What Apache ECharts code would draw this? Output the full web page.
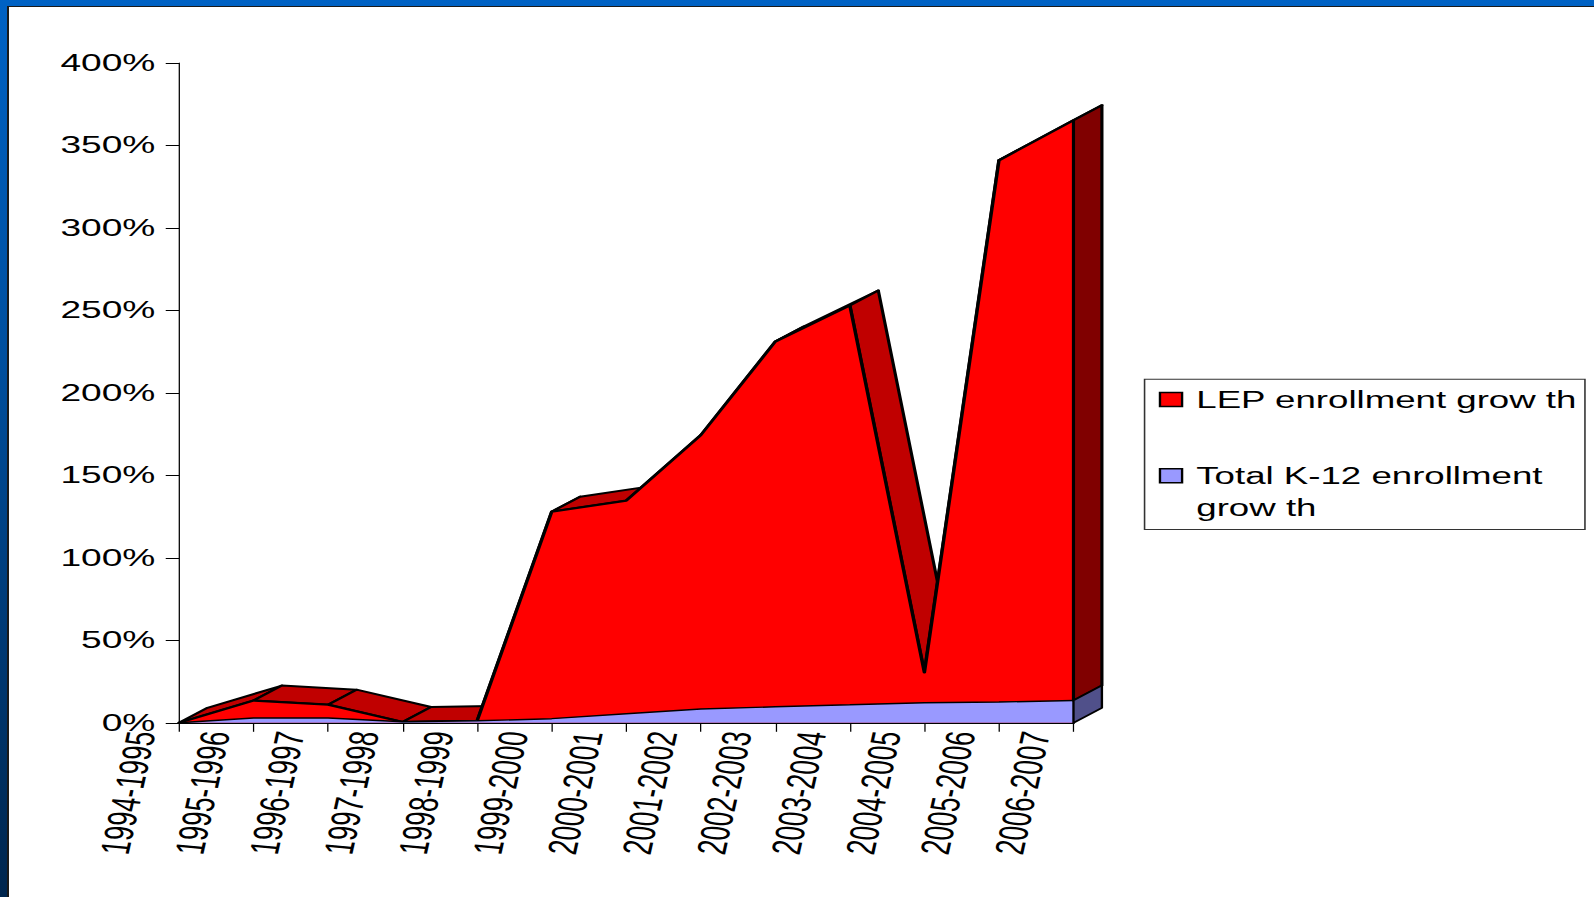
<!DOCTYPE html>
<html><head><meta charset="utf-8">
<script src="https://cdn.jsdelivr.net/npm/echarts@6/dist/echarts.min.js"></script>
<style>
html,body{margin:0;padding:0;width:1594px;height:897px;overflow:hidden;}
body{position:relative;background:linear-gradient(to bottom,#0062c4 0%,#004f9e 40%,#00264e 100%);}
#paper{position:absolute;left:7px;top:6px;width:1587px;height:891px;background:#fff;border-left:2px solid #1a1a1a;border-top:1.5px solid #1a1a1a;box-sizing:border-box;}
#chart{position:absolute;left:0;top:0;width:1009px;height:897px;transform:scaleX(1.5798);transform-origin:0 0;}
</style></head>
<body><div id="paper"></div><div id="chart"></div>
<script>
// ---- data ----
const categories = ['1994-1995','1995-1996','1996-1997','1997-1998','1998-1999','1999-2000','2000-2001','2001-2002','2002-2003','2003-2004','2004-2005','2005-2006','2006-2007'];
const lepGrowth = [0, 13.5, 11, 0.5, 1.2, 128, 134.7, 174.4, 231.1, 253, 30.6, 341, 365.3];
const k12Growth = [0, 2.9, 2.9, 0.6, 1.2, 2.5, 5.5, 8.4, 9.7, 10.9, 12.2, 12.6, 13.5];
const seriesNames = ['LEP enrollment grow th', 'Total K-12 enrollment grow th'];
const yMin = 0, yMax = 400, yStep = 50;

// ---- style constants ----
const DX = 18, DY = -15; // 3D depth offset (px)
const FONT = "'Liberation Sans', Arial, sans-serif";

const chart = echarts.init(document.getElementById('chart'), null, {renderer: 'svg', width: 1009, height: 897});

const shift = p => [p[0] + DX, p[1] + DY];

function topFace(params, api) {
  const i = params.dataIndex;
  const p0 = api.coord([i, api.value(1)]);
  const p1 = api.coord([i + 1, api.value(2)]);
  return {
    type: 'polygon',
    shape: {points: [p0, p1, shift(p1), shift(p0)]},
    style: {fill: '#c00000', stroke: '#000', lineWidth: 2, lineJoin: 'round'}
  };
}
function sideFace(params, api) {
  const i = api.value(0);
  const top = api.coord([i, api.value(1)]);
  const mid = api.coord([i, api.value(2)]);
  const bot = api.coord([i, 0]);
  return {
    type: 'group',
    children: [
      {type: 'polygon', shape: {points: [top, shift(top), shift(mid), mid]},
       style: {fill: '#800000', stroke: '#000', lineWidth: 2, lineJoin: 'round'}},
      {type: 'polygon', shape: {points: [mid, shift(mid), shift(bot), bot]},
       style: {fill: '#50508a', stroke: '#000', lineWidth: 1.5, lineJoin: 'round'}}
    ]
  };
}

const topData = lepGrowth.slice(0, -1).map((v, i) => [i, v, lepGrowth[i + 1]]);
const last = categories.length - 1;
const sideData = [[last, lepGrowth[last], k12Growth[last]]];

chart.setOption({
  animation: false,
  backgroundColor: 'transparent',
  grid: {left: 113.3, right: 329.5, top: 63, bottom: 174.2, containLabel: false, outerBoundsMode: 'none'},
  legend: {
    orient: 'vertical',
    left: 724.5,
    top: 379.2,
    padding: [4.5, 5, 6.6, 9],
    itemGap: 13.3,
    itemWidth: 14,
    itemHeight: 14,
    icon: 'rect',
    selectedMode: false,
    borderColor: '#333',
    borderWidth: 1,
    backgroundColor: '#fff',
    itemStyle: {borderColor: '#000', borderWidth: 1.5},
    data: seriesNames,
    formatter: name => name === seriesNames[1] ? ' \nTotal K-12 enrollment\ngrow th' : name,
    textStyle: {fontFamily: FONT, fontSize: 23.2, color: '#000', lineHeight: 31.5, padding: [0, 0, 0, 4]}
  },
  xAxis: {
    type: 'category',
    data: categories,
    boundaryGap: false,
    axisLine: {show: true, lineStyle: {color: '#000', width: 2}},
    axisTick: {show: true, interval: 0, length: 9, lineStyle: {color: '#000', width: 0.8}},
    axisLabel: {interval: 0, rotate: 82, margin: 12, verticalAlign: 'bottom', padding: [0, 0, 11, 0],
                fontFamily: FONT, fontSize: 26, color: '#000'},
    splitLine: {show: false}
  },
  yAxis: {
    type: 'value',
    min: yMin, max: yMax, interval: yStep,
    axisLine: {show: true, lineStyle: {color: '#000', width: 0.8}},
    axisTick: {show: true, length: 8.4, lineStyle: {color: '#000', width: 1}},
    axisLabel: {formatter: '{value}%', margin: 15, fontFamily: FONT, fontSize: 23.5, color: '#000'},
    splitLine: {show: false}
  },
  series: [
    {
      type: 'custom', name: 'lepTop', z: 1, silent: true,
      renderItem: topFace, data: topData, encode: {x: 0, y: 1}
    },
    {
      type: 'line', name: seriesNames[0], z: 2, data: lepGrowth,
      color: '#ff0000', itemStyle: {color: '#ff0000'},
      symbol: 'none', lineStyle: {color: '#000', width: 2.2, join: 'round'},
      areaStyle: {color: '#ff0000', opacity: 1}
    },
    {
      type: 'line', name: seriesNames[1], z: 3, data: k12Growth,
      color: '#9999ff', itemStyle: {color: '#9999ff'},
      symbol: 'none', lineStyle: {color: '#000', width: 1.4},
      areaStyle: {color: '#9999ff', opacity: 1}
    },
    {
      type: 'custom', name: 'side', z: 4, silent: true,
      renderItem: sideFace, data: sideData, encode: {x: 0, y: 1}
    }
  ]
});
</script>
</body></html>
